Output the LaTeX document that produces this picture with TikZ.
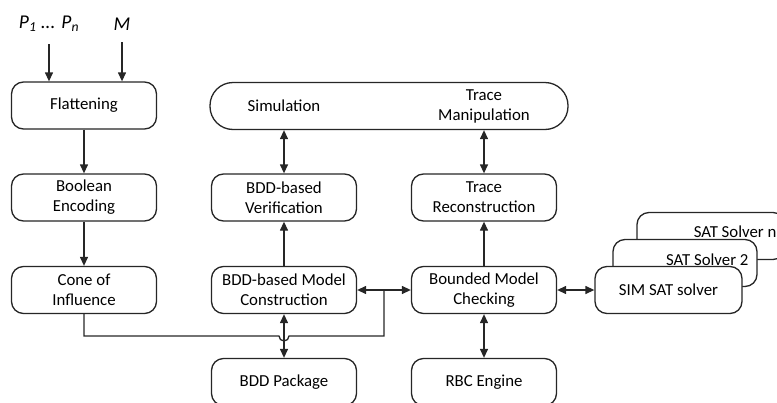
\documentclass[tikz,border=0pt]{standalone}
\usepackage{fontspec}
\setmainfont{Carlito}
\usetikzlibrary{arrows.meta,calc}

\tikzset{
  line/.style={draw=black!85, line width=1.3pt},
  tip/.style={-{Triangle[width=8pt,length=9pt]}},
  dtip/.style={{Triangle[width=8pt,length=9pt]}-{Triangle[width=8pt,length=9pt]}},
  blk/.style={line, fill=white, rounded corners=12pt, minimum width=145pt,
    minimum height=47pt, inner sep=0pt, align=center,
    font=\fontsize{16.8}{20}\selectfont},
  txt/.style={inner sep=0pt, align=center, font=\fontsize{16.8}{20}\selectfont},
  inlbl/.style={inner sep=0pt, font=\fontsize{19.5}{22}\selectfont\itshape},
}

\begin{document}
\begin{tikzpicture}[x=1pt,y=-1pt]
\useasboundingbox (0,0) rectangle (777,402);

% inputs
\node[inlbl] (p) at (49,24) {P\textsubscript{1} ... P\textsubscript{n}};
\node[inlbl] (m) at (122,24) {M};

% left column
\node[blk] (flat) at (84,105.5) {Flattening};
\node[blk] (bool) at (84,197.5) {Boolean\\Encoding};
\node[blk] (cone) at (84,290) {Cone of\\Influence};

% wide top block
\node[blk, minimum width=358pt, rounded corners=23pt] (wide) at (389,106) {};
\node[txt] (simt) at (284,106) {Simulation};
\node[txt] (tmt) at (484,106) {Trace\\Manipulation};

% BDD column
\node[blk] (ver) at (284,197.5) {BDD-based\\Verification};
\node[blk] (bddmc) at (284,290) {BDD-based Model\\Construction};
\node[blk] (pkg) at (284,382) {BDD Package};

% bounded model checking column
\node[blk] (trace) at (484,197.5) {Trace\\Reconstruction};
\node[blk] (bmc) at (484,290) {Bounded Model\\Checking};
\node[blk] (rbc) at (484,382) {RBC Engine};

% stacked SAT solvers, back to front
\node[blk, minimum width=148pt] (satn) at (711,236) {};
\node[txt, anchor=east] (satnt) at ([xshift=-9pt,yshift=4pt]satn.east) {SAT Solver n};
\node[blk, minimum width=144pt] (sat2) at (685,263) {};
\node[txt, anchor=east] (sat2t) at ([xshift=-9pt,yshift=3pt]sat2.east) {SAT Solver 2};
\node[blk, minimum width=147pt] (sim) at (668.5,290) {SIM SAT solver};

% connectors
\draw[line, tip] ([yshift=-12pt]p.south) -- (p.south |- flat.north);
\draw[line, tip] ([yshift=-12pt]m.south) -- (m.south |- flat.north);
\draw[line, tip] (flat) -- (bool);
\draw[line, tip] (bool) -- (cone);

\coordinate (junc) at (384,290);
\draw[line] (cone.south) |- (279,336) arc[start angle=180, end angle=360, radius=5pt]
  -| (junc);
\draw[line, dtip] (bddmc.east) -- (bmc.west);

\draw[line, dtip] (bddmc) -- (pkg);
\draw[line, tip] (bddmc) -- (ver);
\draw[line, dtip] (ver.north) -- (ver.north |- wide.south);

\draw[line, tip] (bmc) -- (trace);
\draw[line, dtip] (trace.north) -- (trace.north |- wide.south);
\draw[line, dtip] (bmc) -- (rbc);
\draw[line, dtip] (bmc) -- (sim);
\end{tikzpicture}
\end{document}
